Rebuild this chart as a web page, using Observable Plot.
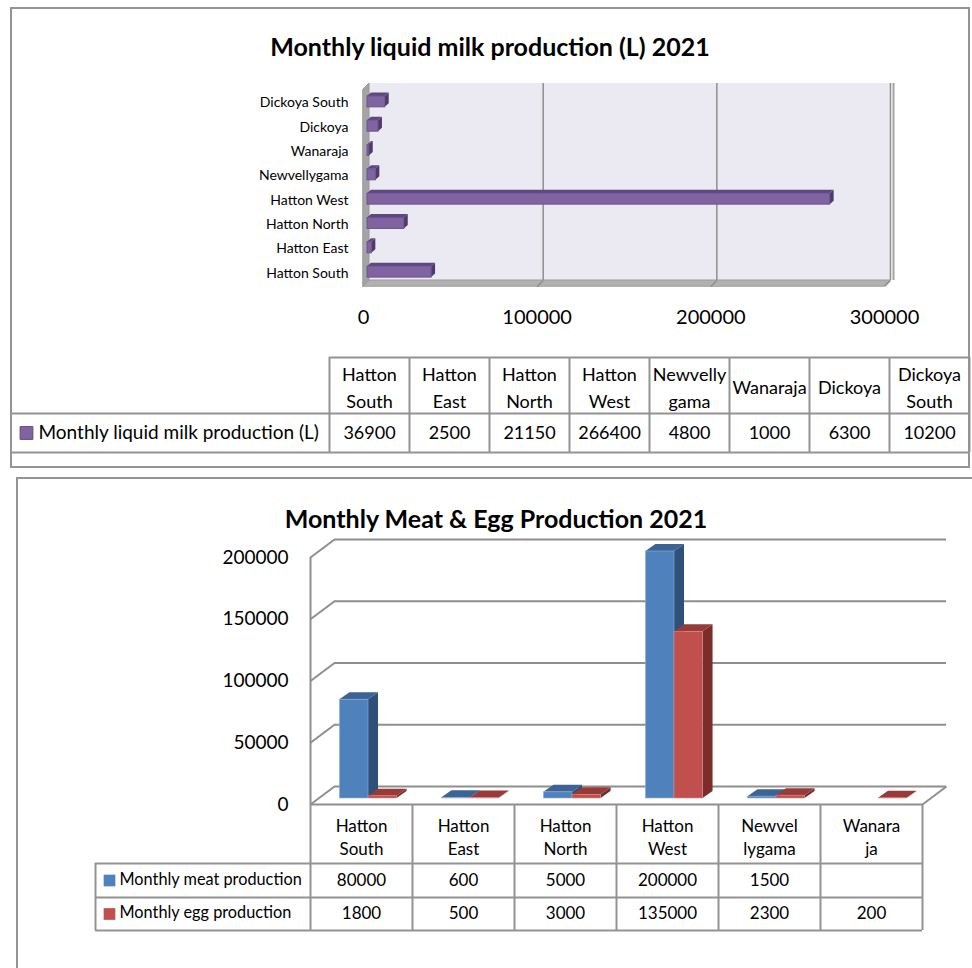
<!DOCTYPE html>
<html>
<head>
<meta charset="utf-8">
<script src="https://cdn.jsdelivr.net/npm/d3@7"></script>
<script src="https://cdn.jsdelivr.net/npm/@observablehq/plot@0.6"></script>
<style>
  html, body { margin: 0; padding: 0; background: #fff; overflow: hidden; }
  #page { position: relative; width: 972px; height: 968px; overflow: hidden; font-family: Lato, "Open Sans", sans-serif; color: #000; }
  .panel { position: absolute; border: 2px solid #949494; box-sizing: border-box; }
  .title { position: absolute; left: 0; text-align: center; font-weight: 700; font-size: 25px; line-height: 30px; white-space: nowrap; }
  #page svg { position: absolute; left: 0; overflow: visible; background: transparent; }
</style>
</head>
<body>
<div id="page">
  <div class="panel" style="left:10px;top:7px;width:960px;height:461px;"></div>
  <div class="panel" style="left:16px;top:477px;width:1000px;height:600px;"></div>
  <div class="title" style="top:31px;width:980px;">Monthly liquid milk production (L) 2021</div>
  <div class="title" style="top:503px;width:992px;">Monthly Meat &amp; Egg Production 2021</div>
</div>
<script>
// ---- Liquid milk (horizontal bars) ----
const milkAreas = ["Hatton South", "Hatton East", "Hatton North", "Hatton West", "Newvellygama", "Wanaraja", "Dickoya", "Dickoya South"];
const milkHeader = ["Hatton\nSouth", "Hatton\nEast", "Hatton\nNorth", "Hatton\nWest", "Newvelly\ngama", "Wanaraja", "Dickoya", "Dickoya\nSouth"];
const milkValues = [36900, 2500, 21150, 266400, 4800, 1000, 6300, 10200];
const milkTicks = [0, 100000, 200000, 300000];
const milkSeries = "Monthly liquid milk production (L)";

// ---- Meat & egg (vertical bars) ----
const meatAreas = ["Hatton South", "Hatton East", "Hatton North", "Hatton West", "Newvellygama", "Wanaraja"];
const meatHeader = ["Hatton\nSouth", "Hatton\nEast", "Hatton\nNorth", "Hatton\nWest", "Newvel\nlygama", "Wanara\nja"];
const meatValues = [80000, 600, 5000, 200000, 1500, null];
const eggValues = [1800, 500, 3000, 135000, 2300, 200];
const meatEggTicks = [0, 50000, 100000, 150000, 200000];
const meatSeries = "Monthly meat production";
const eggSeries = "Monthly egg production";

const page = document.getElementById("page");
function put(svg, top) { svg.style.top = top + "px"; page.appendChild(svg); }

const GRID = "#8e8e8e";
const LINE = "#939393";
const fmt = d3.format("d");

// Turns a list of bars into the polygons of their top and side faces.
function faces(bars, depthX, depthY, horizontal) {
  const top = [], side = [];
  for (const b of bars) {
    if (horizontal) {
      top.push({id: b.id, y: b.hi, x1: 0, x2: b.value}, {id: b.id, y: b.hi + depthY, x1: depthX, x2: b.value + depthX});
      side.push({id: b.id, x: b.value, y1: b.lo, y2: b.hi}, {id: b.id, x: b.value + depthX, y1: b.lo + depthY, y2: b.hi + depthY});
    } else {
      top.push({id: b.id, y: b.value, x1: b.lo, x2: b.hi}, {id: b.id, y: b.value + depthY, x1: b.lo + depthX, x2: b.hi + depthX});
      side.push({id: b.id, x: b.hi, y1: 0, y2: b.value}, {id: b.id, x: b.hi + depthX, y1: depthY, y2: b.value + depthY});
    }
  }
  return {top, side};
}

// ================= Chart 1: liquid milk =================
{
  const W = 972, H = 340;
  const mL = 363, mR = 88, mT = 89, mB = 54;
  const yExt = [-0.55, milkAreas.length - 1 + 0.55];
  const kx = 300000 / (W - mL - mR);            // data units per pixel
  const ky = (yExt[1] - yExt[0]) / (H - mT - mB);
  const wallDx = 6, wallDy = 6;                  // depth of the box, px
  const wdx = wallDx * kx, wdy = wallDy * ky;
  const half = 0.225;
  const bars = milkAreas.map((a, i) => ({id: a, value: milkValues[i], lo: i - half, hi: i + half}));
  const f = faces(bars, 4 * kx, 3.5 * ky, true);
  const barShift = {dx: 4, dy: -1};

  const svg = Plot.plot({
    width: W, height: H,
    marginLeft: mL, marginRight: mR, marginTop: mT, marginBottom: mB,
    style: {fontFamily: "Lato, 'Open Sans', sans-serif", background: "transparent", color: "#000"},
    x: {domain: [0, 300000], label: null},
    y: {domain: yExt, label: null},
    marks: [
      // back wall
      Plot.rect([{}], {x1: () => 0, x2: () => 300000, y1: () => yExt[0], y2: () => yExt[1], dx: wallDx, dy: -wallDy, fill: "#ebe9f1"}),
      Plot.ruleX([300000], {y1: yExt[0], y2: yExt[1], dx: wallDx + 3, dy: -wallDy, stroke: "#a3a3a3", strokeWidth: 2}),
      // floor and side wall
      Plot.areaX([{y: yExt[0], x1: 0, x2: 300000}, {y: yExt[0] + wdy, x1: wdx, x2: 300000 + wdx}],
        {y: "y", x1: "x1", x2: "x2", fill: "#b1b1b1", stroke: "#9a9a9a", strokeWidth: 1}),
      Plot.areaY([{x: 0, y1: yExt[0], y2: yExt[1]}, {x: wdx, y1: yExt[0] + wdy, y2: yExt[1] + wdy}],
        {x: "x", y1: "y1", y2: "y2", fill: "#a4a4a4", stroke: "#989898", strokeWidth: 1}),
      // gridlines
      Plot.ruleX(milkTicks.slice(1), {y1: yExt[0], y2: yExt[1], dx: wallDx, dy: -wallDy, stroke: GRID, strokeWidth: 1.5}),
      Plot.link(milkTicks.slice(1), {x1: d => d, y1: () => yExt[0], x2: d => d + wdx, y2: () => yExt[0] + wdy, stroke: GRID, strokeWidth: 1.5}),
      // bars
      Plot.areaY(f.side, {x: "x", y1: "y1", y2: "y2", z: "id", fill: "#4e3b6b", ...barShift}),
      Plot.areaX(f.top, {y: "y", x1: "x1", x2: "x2", z: "id", fill: "#5d4880", ...barShift}),
      Plot.rect(bars, {x1: () => 0, x2: "value", y1: "lo", y2: "hi", fill: "#8064a2", stroke: "#6c5290", strokeWidth: 1, ...barShift}),
      // axes
      Plot.axisX(milkTicks, {tickSize: 0, tickPadding: 23, fontSize: 20, tickFormat: fmt, label: null}),
      Plot.axisY(d3.range(milkAreas.length), {tickSize: 0, tickPadding: 15, fontSize: 14, tickFormat: i => milkAreas[i], label: null})
    ]
  });
  put(svg, 0);
}

// ================= Table 1 =================
{
  const W = 972, H = 130;
  const colW = 80, labelW = 318, headH = 56, rowH = 39;
  const xLeft = -labelW / colW;
  const svg = Plot.plot({
    width: W, height: H,
    marginLeft: 11, marginRight: 3, marginTop: 17, marginBottom: H - 17 - headH - rowH,
    style: {fontFamily: "Lato, 'Open Sans', sans-serif", background: "transparent", color: "#000"},
    x: {domain: [xLeft, milkAreas.length], axis: null},
    y: {domain: [0, headH + rowH], reverse: true, axis: null},
    marks: [
      Plot.ruleY([0], {x1: 0, x2: milkAreas.length, stroke: LINE, strokeWidth: 2}),
      Plot.ruleY([headH, headH + rowH], {x1: xLeft, x2: milkAreas.length, stroke: LINE, strokeWidth: 2}),
      Plot.ruleX(d3.range(milkAreas.length + 1), {y1: 0, y2: headH + rowH, stroke: LINE, strokeWidth: 2}),
      Plot.text(milkHeader, {x: (d, i) => i + 0.5, y: () => headH / 2, text: d => d, fontSize: 18, lineHeight: 1.5}),
      Plot.text(milkValues, {x: (d, i) => i + 0.5, y: () => headH + rowH / 2, text: d => fmt(d), fontSize: 18}),
      Plot.dot([milkSeries], {x: () => xLeft, y: () => headH + rowH / 2, dx: 15, symbol: "square", r: 7.2, fill: "#8064a2", stroke: "#5e4a7c", strokeWidth: 1}),
      Plot.text([milkSeries], {x: () => xLeft, y: () => headH + rowH / 2, dx: 27, text: d => d, textAnchor: "start", fontSize: 19})
    ]
  });
  put(svg, 340);
}

// ================= Chart 2: meat & egg =================
{
  const W = 972, H = 330;
  const mL = 310, mR = 50, mT = 77, mB = 6;
  const xExt = [-0.5, meatAreas.length - 0.5];
  const kx = (xExt[1] - xExt[0]) / (W - mL - mR);
  const ky = 200000 / (H - mT - mB);
  const wallDx = 24, wallDy = 18;
  const wdx = wallDx * kx, wdy = wallDy * ky;
  const bw = 0.28;
  const meat = meatAreas.map((a, i) => ({id: a, value: meatValues[i], lo: i - bw, hi: i})).filter(d => d.value != null);
  const egg = meatAreas.map((a, i) => ({id: a, value: eggValues[i], lo: i, hi: i + bw})).filter(d => d.value != null);
  const fm = faces(meat, 10 * kx, 7 * ky, false);
  const fe = faces(egg, 10 * kx, 7 * ky, false);
  const barShift = {dx: 7, dy: -6};

  const svg = Plot.plot({
    width: W, height: H,
    marginLeft: mL, marginRight: mR, marginTop: mT, marginBottom: mB,
    style: {fontFamily: "Lato, 'Open Sans', sans-serif", background: "transparent", color: "#000"},
    x: {domain: xExt, axis: null},
    y: {domain: [0, 200000], label: null},
    marks: [
      // back wall gridlines and left wall edges
      Plot.ruleY(meatEggTicks, {x1: xExt[0], x2: xExt[1], dx: wallDx, dy: -wallDy, stroke: GRID, strokeWidth: 2}),
      Plot.link(meatEggTicks, {x1: () => xExt[0], y1: d => d, x2: () => xExt[0] + wdx, y2: d => d + wdy, stroke: GRID, strokeWidth: 2}),
      Plot.ruleX([xExt[0]], {y1: 0, y2: 200000, stroke: GRID, strokeWidth: 2}),
      // floor
      Plot.ruleY([0], {x1: xExt[0], x2: xExt[1], stroke: GRID, strokeWidth: 2}),
      Plot.link([0], {x1: () => xExt[1], y1: () => 0, x2: () => xExt[1] + wdx, y2: () => wdy, stroke: GRID, strokeWidth: 2}),
      // meat bars
      Plot.areaY(fm.side, {x: "x", y1: "y1", y2: "y2", z: "id", fill: "#2f5078", ...barShift}),
      Plot.areaX(fm.top, {y: "y", x1: "x1", x2: "x2", z: "id", fill: "#3c6393", ...barShift}),
      Plot.rect(meat, {x1: "lo", x2: "hi", y1: () => 0, y2: "value", fill: "#4f81bd", stroke: "#8fb0d8", strokeWidth: 0.6, ...barShift}),
      // egg bars
      Plot.areaY(fe.side, {x: "x", y1: "y1", y2: "y2", z: "id", fill: "#7a2d2b", ...barShift}),
      Plot.areaX(fe.top, {y: "y", x1: "x1", x2: "x2", z: "id", fill: "#963b38", ...barShift}),
      Plot.rect(egg, {x1: "lo", x2: "hi", y1: () => 0, y2: "value", fill: "#c0504d", stroke: "#d98a88", strokeWidth: 0.6, ...barShift}),
      // value axis
      Plot.axisY(meatEggTicks, {tickSize: 0, tickPadding: 22, fontSize: 19, tickFormat: fmt, label: null})
    ]
  });
  put(svg, 480);
}

// ================= Table 2 =================
{
  const W = 972, H = 140;
  const colW = 102, labelW = 215, headH = 59, rowH = 34, rowH2 = 33;
  const xExt = [-0.5, meatAreas.length - 0.5];
  const xLeft = xExt[0] - labelW / colW;
  const total = headH + rowH + rowH2;
  const svg = Plot.plot({
    width: W, height: H,
    marginLeft: 310, marginRight: 50, marginTop: 4, marginBottom: H - 4 - total,
    style: {fontFamily: "Lato, 'Open Sans', sans-serif", background: "transparent", color: "#000"},
    x: {domain: xExt, axis: null},
    y: {domain: [0, total], reverse: true, axis: null},
    marks: [
      Plot.ruleY([headH, headH + rowH, total], {x1: xLeft, x2: xExt[1], stroke: LINE, strokeWidth: 2}),
      Plot.ruleX(d3.range(meatAreas.length + 1).map(i => i - 0.5), {y1: 0, y2: total, stroke: LINE, strokeWidth: 2}),
      Plot.ruleX([xLeft], {y1: headH, y2: total, stroke: LINE, strokeWidth: 2}),
      Plot.text(meatHeader, {x: (d, i) => i, y: () => headH / 2 + 2, text: d => d, fontSize: 17, lineHeight: 1.38}),
      Plot.text(meatValues, {x: (d, i) => i, y: () => headH + rowH / 2, text: d => d == null ? "" : fmt(d), fontSize: 17}),
      Plot.text(eggValues, {x: (d, i) => i, y: () => headH + rowH + rowH2 / 2, text: d => d == null ? "" : fmt(d), fontSize: 17}),
      Plot.dot([meatSeries], {x: () => xLeft, y: () => headH + rowH / 2, dx: 14, symbol: "square", r: 6.6, fill: "#4f81bd"}),
      Plot.dot([eggSeries], {x: () => xLeft, y: () => headH + rowH + rowH2 / 2, dx: 14, symbol: "square", r: 6.6, fill: "#c0504d"}),
      Plot.text([meatSeries], {x: () => xLeft, y: () => headH + rowH / 2 - 1, dx: 24, text: d => d, textAnchor: "start", fontSize: 16.3}),
      Plot.text([eggSeries], {x: () => xLeft, y: () => headH + rowH + rowH2 / 2 - 1, dx: 24, text: d => d, textAnchor: "start", fontSize: 16.3})
    ]
  });
  put(svg, 800);
}
</script>
</body>
</html>
